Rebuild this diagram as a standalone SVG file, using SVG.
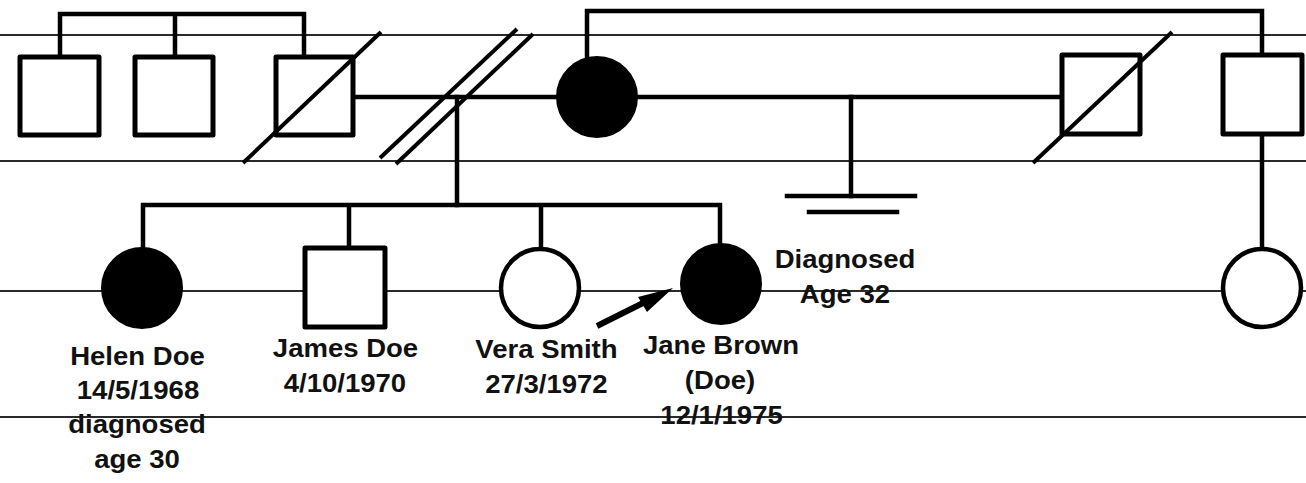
<svg xmlns="http://www.w3.org/2000/svg" width="1306" height="483" viewBox="0 0 1306 483">
<style>
.gen{stroke:#2a2a2a;stroke-width:2.2;fill:none}
.ln{stroke:#000;stroke-width:4.5;fill:none;stroke-linejoin:miter;stroke-linecap:square}
.sq{stroke:#000;stroke-width:5;fill:#fff;stroke-linejoin:round}
.oc{stroke:#000;stroke-width:4.5;fill:#fff}
.fc{stroke:#000;stroke-width:2;fill:#000}
.sl{stroke:#000;stroke-width:4;stroke-linecap:butt;fill:none}
.lbl{font-family:"Liberation Sans",Arial,sans-serif;font-weight:bold;font-size:25.5px;fill:#111;text-anchor:middle}
</style>
<rect width="1306" height="483" fill="#fff"/>
<g id="generation-lines">
<line class="gen" x1="0" y1="35" x2="1306" y2="35"/>
<line class="gen" x1="0" y1="161" x2="1306" y2="161"/>
<line class="gen" x1="0" y1="291" x2="1306" y2="291"/>
<line class="gen" x1="0" y1="417" x2="1306" y2="417"/>
</g>
<g id="connectors">
<path class="ln" d="M60,57 V14 H304 V57 M175,14 V57"/>
<path class="ln" d="M587,57 V11 H1262 V55"/>
<path class="ln" d="M353,97 H557"/>
<path class="ln" d="M637,97 H1062"/>
<path class="ln" d="M457,97 V205"/>
<path class="ln" d="M143,248 V205 H720 V243 M349,205 V248 M541,205 V248"/>
<path class="ln" d="M851,97 V196"/>
<path class="ln" d="M787,196 H915"/>
<path class="ln" d="M809,212 H897"/>
<path class="ln" d="M1262,134 V247"/>
<line class="sl" x1="380" y1="158" x2="517" y2="29"/>
<line class="sl" x1="396" y1="164" x2="533" y2="34"/>
<g id="proband-arrow">
<line x1="597" y1="326" x2="645" y2="302" stroke="#000" stroke-width="6"/>
<polygon points="673,288 638,297 647,312" fill="#000"/>
</g>
</g>
<g id="uncle1"><rect class="sq" x="20" y="57" width="79" height="78"/></g>
<g id="uncle2"><rect class="sq" x="135" y="57" width="78" height="78"/></g>
<g id="father"><rect class="sq" x="276" y="57" width="77" height="78"/><line class="sl" x1="243" y1="163" x2="381" y2="32"/></g>
<g id="mother"><circle class="fc" cx="597" cy="97" r="40"/></g>
<g id="stepfather"><rect class="sq" x="1062" y="55" width="78" height="79"/><line class="sl" x1="1033" y1="163" x2="1172" y2="32"/></g>
<g id="mother-sibling"><rect class="sq" x="1223" y="55" width="79" height="79"/></g>
<g id="helen"><circle class="fc" cx="142" cy="288" r="40"/></g>
<g id="james"><rect class="sq" x="305" y="248" width="80" height="79"/></g>
<g id="vera"><circle class="oc" cx="540" cy="288" r="39"/></g>
<g id="jane"><circle class="fc" cx="721" cy="284" r="40"/></g>
<g id="cousin"><circle class="oc" cx="1262" cy="288" r="39"/></g>
<g id="labels" transform="scale(1.08 1)">
<text class="lbl" x="127.3" y="365">Helen Doe</text>
<text class="lbl" x="127.8" y="399">14/5/1968</text>
<text class="lbl" x="126.9" y="433">diagnosed</text>
<text class="lbl" x="126.9" y="468">age 30</text>
<text class="lbl" x="319.9" y="357">James Doe</text>
<text class="lbl" x="319.4" y="392">4/10/1970</text>
<text class="lbl" x="506" y="358">Vera Smith</text>
<text class="lbl" x="506" y="393">27/3/1972</text>
<text class="lbl" x="667.6" y="354">Jane Brown</text>
<text class="lbl" x="666.7" y="389">(Doe)</text>
<text class="lbl" x="668.1" y="424">12/1/1975</text>
<text class="lbl" x="782.4" y="268">Diagnosed</text>
<text class="lbl" x="782.4" y="303">Age 32</text>
</g>
</svg>
